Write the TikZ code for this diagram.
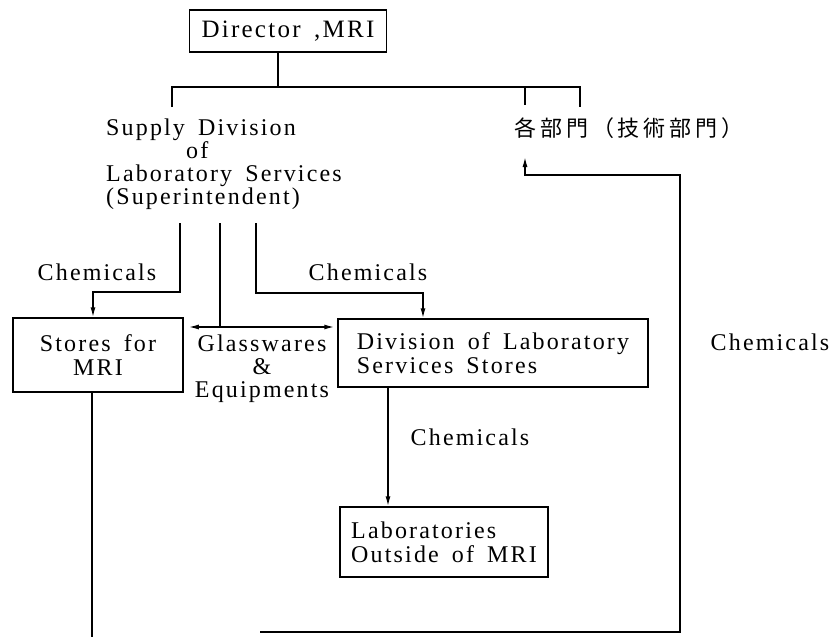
\documentclass[tikz,border=0pt]{standalone}
\usepackage{fontspec}
\setmainfont{Liberation Serif}[LetterSpace=9,WordSpace=1.6]
\newfontfamily\jpfont{Noto Sans CJK JP}[LetterSpace=18]
\usetikzlibrary{positioning,arrows.meta}
\tikzset{
    unit/.style={
        draw,
        line width=1.5pt,
        align=center,
        inner sep=0pt,
        font=\fontsize{24}{24}\selectfont
    },
    unitleft/.style={
        unit,
        align=left
    },
    label/.style={
        inner sep=0pt,
        align=center,
        font=\fontsize{24}{23}\selectfont
    },
    link/.style={line width=1.5pt},
    arrow/.style={-{Latex[length=10pt,width=5pt]}, line width=1.5pt},
    twoway/.style={{Latex[length=10pt,width=5pt]}-{Latex[length=10pt,width=5pt]}, line width=1.5pt}
}

\begin{document}
\begin{tikzpicture}[x=1pt,y=-1pt]
\useasboundingbox (0,0) rectangle (833,637);

\node[unit, minimum width=197pt, minimum height=42pt] (dir) at (288,31)
{\fontsize{25}{28}\selectfont Director ,MRI};

% Top level
\coordinate (bus)   at (278,87);
\coordinate (busL)  at (172,87);
\coordinate (busR)  at (580,87);
\coordinate (tickL) at (172,107);
\coordinate (tickM) at (525,105);
\coordinate (tickR) at (580,107);

\draw[link] (dir.south -| bus) -- (bus);
\draw[link] (tickL) -- (busL) -- (busR) -- (tickR);
\draw[link] (tickM |- bus) -- (tickM);

\node[label, align=left, anchor=north west] (supply) at (106,119)
{Supply Division\\\hspace*{80pt}of\\Laboratory Services\\(Superintendent)};

\node[label, anchor=base] (dept) at (629,136)
{\jpfont\fontsize{22}{24}\selectfont 各部門（技術部門）};

% Stores
\node[unit, minimum width=170pt, minimum height=74pt] (stores) at (98,355)
{Stores for\\MRI};

\node[unitleft, minimum width=310pt, minimum height=68pt] (div) at (493,353)
{Division of Laboratory\\Services Stores};

\node[unitleft, minimum width=208pt, minimum height=70pt] (labs) at (444,542)
{Laboratories\\Outside of MRI};

\coordinate (s1) at (180,223);
\coordinate (s2) at (220,223);
\coordinate (s3) at (256,223);
\coordinate (glass) at (220,327);

\draw[arrow] (s1) -- (180,292) -| ([xshift=-5pt]stores.north);
\draw[link] (s2) -- (glass);
\draw[twoway] ([xshift=5pt]stores.east |- glass) -- ([xshift=-3pt]div.west |- glass);
\draw[arrow] (s3) -- (256,293) -| (div.north -| 423,0);

\node[label, anchor=base] (chemA) at (97,280) {Chemicals};
\node[label, anchor=base] (chemB) at (368,280) {Chemicals};
\node[label, anchor=north] (glasstext) at (262,335) {Glasswares\\\&\\Equipments};

% Lower part
\draw[arrow] (div.south -| 388,0) -- (labs.north -| 388,0);
\node[label, anchor=base] (chemC) at (470,445) {Chemicals};

\coordinate (down) at (92,637);
\coordinate (back) at (260,632);
\coordinate (corner) at (680,632);
\coordinate (rise) at (680,175);
\coordinate (deptin) at (525,157);

\draw[link] (stores.south -| down) -- (down);
\draw[arrow] (back) -- (corner) -- (rise) -- (rise -| deptin) -- (deptin);
\node[label, anchor=base] (chemD) at (770,350) {Chemicals};

\end{tikzpicture}
\end{document}
